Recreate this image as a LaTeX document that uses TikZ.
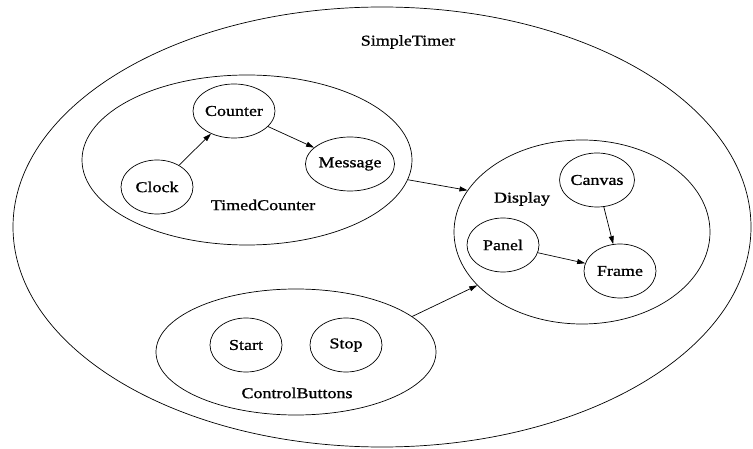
\documentclass[tikz,border=0pt]{standalone}
\usepackage{fontspec}
\setmainfont{Liberation Serif}[FakeStretch=1.2, FakeBold=1]
\usetikzlibrary{shapes.geometric,arrows.meta,positioning}

\begin{document}
\begin{tikzpicture}[x=1pt, y=-1pt,
    part/.style={draw, ellipse, line width=0.7pt, minimum width=72pt, minimum height=54pt, inner sep=0pt, font=\fontsize{15}{15}\selectfont},
    group/.style={draw, ellipse, line width=0.7pt, inner sep=0pt},
    lbl/.style={font=\fontsize{15}{15}\selectfont, inner sep=0pt},
    link/.style={line width=0.7pt, -{Triangle[length=8pt,width=5pt]}}]
    \useasboundingbox (0,0) rectangle (753,449);

    % Outer component
    \node[group, minimum width=738pt, minimum height=440pt] (timer) at (382,227) {};
    \node[lbl] (timerlbl) at (408,42) {SimpleTimer};

    % TimedCounter group
    \node[group, minimum width=330pt, minimum height=170pt] (tc) at (247,160) {};
    \node[lbl] (tclbl) at (263,205) {TimedCounter};
    \node[part] (counter) at (234,111) {Counter};
    \node[part] (clock) at (157,187) {Clock};
    \node[part] (message) at (350,164) {Message};

    % Display group
    \node[group, minimum width=256pt, minimum height=184pt] (disp) at (582,232) {};
    \node[lbl] (displbl) at (522,199) {Display};
    \node[part] (canvas) at (597,180) {Canvas};
    \node[part] (panel) at (503,245) {Panel};
    \node[part] (frame) at (620,271) {Frame};

    % ControlButtons group
    \node[group, minimum width=280pt, minimum height=126pt] (cb) at (296,352) {};
    \node[lbl] (cblbl) at (297,393) {ControlButtons};
    \node[part] (start) at (246,345) {Start};
    \node[part] (stop) at (346,345) {Stop};

    % Connectors
    \draw[link] (clock) -- (counter);
    \draw[link] (counter) -- (message);
    \draw[link] (panel) -- (frame);
    \draw[link] (canvas) -- (frame);
    \draw[link] (tc.-7) -- (disp.160);
    \draw[link] (cb.17) -- (disp.-153);
\end{tikzpicture}
\end{document}
